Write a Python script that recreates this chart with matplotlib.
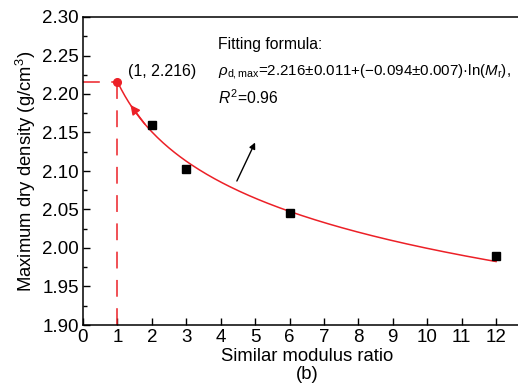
import numpy as np
import matplotlib
matplotlib.use("Agg")
import matplotlib.pyplot as plt
from matplotlib.ticker import MultipleLocator

plt.rcParams['font.family'] = ['Liberation Sans', 'DejaVu Sans']
plt.rcParams['mathtext.fontset'] = 'custom'
plt.rcParams['mathtext.rm'] = 'Liberation Sans'
plt.rcParams['mathtext.it'] = 'Liberation Sans:italic'

# measured points
ratio = [2, 3, 6, 12]
density = [2.160, 2.102, 2.045, 1.990]

# fitted: rho = a + b*ln(Mr)
fit_a = 2.216
fit_b = -0.094
peak_point = (1, 2.216)

red = '#ec2027'

fig = plt.figure(figsize=(5.18, 3.92), dpi=100)
ax = fig.add_axes([83 / 518, 1 - 325 / 392, 447.5 / 518, 308 / 392])

xs = np.linspace(1, 12, 200)
ax.plot(xs, fit_a + fit_b * np.log(xs), color=red, lw=1.1, zorder=2)

ax.plot(ratio, density, 's', color='black', ms=6, zorder=3)

# projection lines to the peak
ax.plot([0, peak_point[0]], [peak_point[1], peak_point[1]], color=red,
        lw=1.1, dashes=(11, 7.5), zorder=2)
ax.plot([peak_point[0], peak_point[0]], [1.90, peak_point[1]], color=red,
        lw=1.1, dashes=(11, 7.5), zorder=2)
ax.plot(*peak_point, 'o', color=red, ms=5.5, zorder=4)
ax.text(1.3, 2.2286, '(1, 2.216)', fontsize=11.5, va='center', ha='left')

# red arrowhead on the curve
x0, x1 = 1.8, 1.38
ax.annotate('', xy=(x1, fit_a + fit_b * np.log(x1)), xytext=(x0, fit_a + fit_b * np.log(x0)),
            arrowprops=dict(arrowstyle='-|>', color=red, lw=1.1,
                            mutation_scale=14, shrinkA=0, shrinkB=0))

# black arrow towards the formula
ax.annotate('', xy=(5.0, 2.137), xytext=(4.47, 2.087),
            arrowprops=dict(arrowstyle='-|>', color='black', lw=1.0,
                            mutation_scale=9, shrinkA=0, shrinkB=0))

ax.text(3.92, 2.2637, 'Fitting formula:', fontsize=11.3, va='center')
ax.text(3.92, 2.2286, r'$\rho_{\rm d,max}$=2.216±0.011+(−0.094±0.007)·ln($M_{\rm r}$),',
        fontsize=10.9, va='center')
ax.text(3.92, 2.1949, r'$R^{2}$=0.96', fontsize=11.3, va='center')

ax.set_xlim(0, 13)
ax.set_ylim(1.90, 2.30)
ax.set_xticks(range(0, 13))
ax.yaxis.set_major_locator(MultipleLocator(0.05))
ax.yaxis.set_minor_locator(MultipleLocator(0.025))
ax.yaxis.set_major_formatter(matplotlib.ticker.FormatStrFormatter('%.2f'))
ax.tick_params(direction='in', labelsize=13.5, length=5, width=1, pad=3)
ax.tick_params(which='minor', direction='in', length=3, width=1)
ax.spines['right'].set_visible(False)
for s in ['left', 'bottom', 'top']:
    ax.spines[s].set_linewidth(1.1)

ax.set_ylabel('Maximum dry density (g/cm$^3$)', fontsize=13.3, labelpad=3)
ax.set_xlabel('Similar modulus ratio\n(b)', fontsize=13.3, labelpad=1, linespacing=1.1)

fig.savefig('out.png', dpi=100)
